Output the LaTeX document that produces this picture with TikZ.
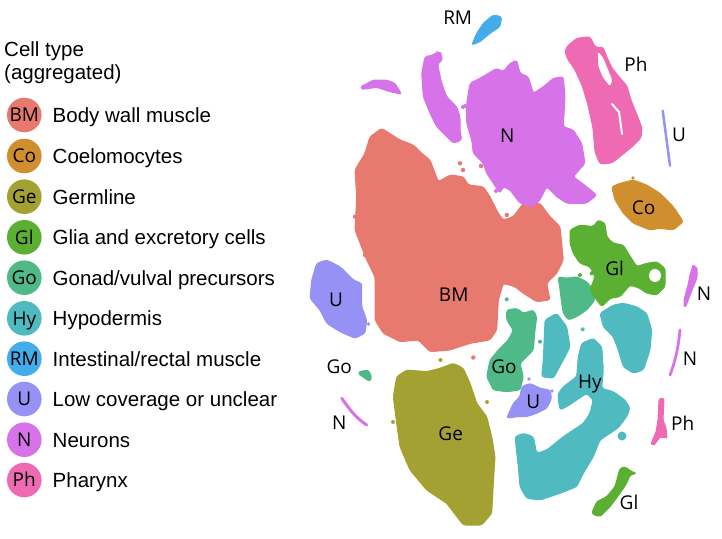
\documentclass[tikz,border=0pt]{standalone}
\usepackage{fontspec}
\setmainfont{Liberation Sans}
\newfontfamily\lblfont{Open Sans}
\definecolor{cBM}{HTML}{E8796E}
\definecolor{cCo}{HTML}{D08F2E}
\definecolor{cGe}{HTML}{A2A131}
\definecolor{cGl}{HTML}{5BAF32}
\definecolor{cGo}{HTML}{4FB987}
\definecolor{cHy}{HTML}{50BAC1}
\definecolor{cRM}{HTML}{44ACEB}
\definecolor{cU}{HTML}{9691F4}
\definecolor{cN}{HTML}{D773E9}
\definecolor{cPh}{HTML}{EE6BB4}
\tikzset{
  blob/.style={fill=#1, draw=#1, line width=1pt, rounded corners=2.5pt},
  gap/.style={fill=white, draw=white, rounded corners=1.5pt},
  strand/.style={draw=#1, line width=3pt, line cap=round},
  legcirc/.style={circle, fill=#1, minimum size=34.6pt, inner sep=0pt,
    font=\lblfont\fontsize{19}{22}\selectfont, text height=13.5pt, text depth=0pt},
  plotlbl/.style={inner sep=0pt, font=\lblfont\fontsize{19}{22}\selectfont,
    text height=13.5pt, text depth=0pt},
  legtxt/.style={anchor=base west, inner sep=0pt, font=\fontsize{20.5}{24}\selectfont},
}
\begin{document}
\begin{tikzpicture}[x=1pt, y=-1pt]
\useasboundingbox (0,0) rectangle (722,538);
% ---------------- legend ----------------
\node[legtxt] (title1) at (4,56) {Cell type};
\node[legtxt] (title2) at (4,79.5) {(aggregated)};
\foreach \nm/\ab/\col/\txt/\yy in {
  lBM/BM/cBM/Body wall muscle/115,
  lCo/Co/cCo/Coelomocytes/156,
  lGe/Ge/cGe/Germline/196.7,
  lGl/Gl/cGl/Glia and excretory cells/237.3,
  lGo/Go/cGo/Gonad\slash vulval precursors/277.7,
  lHy/Hy/cHy/Hypodermis/318.3,
  lRM/RM/cRM/Intestinal\slash rectal muscle/358.7,
  lU/U/cU/Low coverage or unclear/399,
  lN/N/cN/Neurons/439.7,
  lPh/Ph/cPh/Pharynx/480}{
  \node[legcirc=\col] (\nm c) at (24.3,\yy) {\ab};
  \node[legtxt] (\nm t) at (52.5,\yy+7.5) {\txt};
}
% ---------------- clusters ----------------
% Body wall muscle
\fill[blob=cBM] (381.7,128.3) -- (400,140) -- (413.3,145) -- (421.7,153.3) -- (430,160) -- (438.3,181.7) -- (450,175) -- (463.3,176.7) -- (468.3,185) -- (483.3,186.7) -- (490,196.7) -- (498.3,213.3) -- (503.3,220) -- (513.3,216.7) -- (523.3,203.3) -- (540,203.3) -- (550,216.7) -- (560,226.7) -- (563.3,260) -- (556.7,273.3) -- (546.7,283.3) -- (550,300) -- (536.7,301.7) -- (523.3,293.3) -- (515,286.7) -- (503.3,283.3) -- (498.3,300) -- (496.7,330) -- (490,340) -- (470,343.3) -- (450,350) -- (430,351.7) -- (418.3,340) -- (400,341.7) -- (383.3,333.3) -- (375,320) -- (375,276.7) -- (366.7,260) -- (355,230) -- (356.7,196.7) -- (355,170) -- (365,153.3) -- (370,136.7) -- cycle;
\foreach \px/\py in {460/163.3, 463/170, 506.7/215, 473.3/357.5, 365/255, 355/216.7, 481/166, 560/281}
  \fill[cBM] (\px,\py) circle (2.2pt);
% Neurons main
\fill[blob=cN] (470,83.3) -- (480,78.3) -- (488.3,73.3) -- (496.7,68.3) -- (503.3,71.7) -- (510,63.3) -- (516.7,60) -- (520,73.3) -- (528.3,76.7) -- (533.3,93.3) -- (543.3,86.7) -- (553.3,78.3) -- (563.3,76.7) -- (565,96.7) -- (563.3,126.7) -- (573.3,130) -- (581.7,143.3) -- (585,163.3) -- (573.3,176.7) -- (586.7,186.7) -- (596.7,195) -- (586.7,203.3) -- (566.7,203.3) -- (556.7,196.7) -- (546.7,186.7) -- (540,200) -- (533.3,206.7) -- (520,203.3) -- (510,190) -- (503.3,186.7) -- (500,193.3) -- (486.7,173.3) -- (483.3,163.3) -- (473.3,153.3) -- (471.7,140) -- (466.7,123.3) -- (466.7,103.3) -- cycle;
\foreach \px/\py in {463/107, 465/106, 496/191, 563/132}
  \fill[cN] (\px,\py) circle (2pt);
% Neurons left arm
\fill[blob=cN] (425,56.7) -- (433.3,55) -- (437,52) -- (441,53) -- (442.5,60) -- (437.5,64) -- (441.7,83.3) -- (446.7,96.7) -- (456.7,106.7) -- (460,116.7) -- (460,130) -- (461.7,140) -- (453.3,143.3) -- (446.7,136.7) -- (436.7,126.7) -- (430,113.3) -- (423.3,96.7) -- (421.7,73.3) -- cycle;
% Neurons small top-left
\fill[blob=cN] (360,87.3) -- (373.3,80) -- (386.7,80) -- (395,83.3) -- (401.7,94.3) -- (390,91.7) -- (376.7,87.3) -- (363.3,89.3) -- cycle;
% Intestinal/rectal muscle
\fill[blob=cRM] (471.7,45) -- (476.7,33.3) -- (483.3,23.3) -- (493.3,15) -- (501.7,16.7) -- (500,26.7) -- (490,33.3) -- (480,41.7) -- cycle;
% Pharynx
\fill[blob=cPh] (566.7,46.7) -- (576.7,38.3) -- (590,36.7) -- (595,46.7) -- (600,48) -- (603,47) -- (606,55) -- (612,68) -- (620,78) -- (627,86) -- (631,100) -- (637,115) -- (642,128) -- (641,138) -- (633,146) -- (622,155) -- (612,163) -- (600,164) -- (595,152) -- (593,128) -- (588,105) -- (582,85) -- (574,68) -- (568,60) -- (565,52) -- cycle;
\fill[gap] (598,52) -- (603,58) -- (607,68) -- (612,80) -- (610,86) -- (603,77) -- (598.5,66) -- cycle;
\draw[white, line width=2pt, line cap=round] (612,104) -- (619,112) -- (622,134);
% U right top
\draw[strand=cU, line width=2.5pt] (662.7,110.7) -- (670,165.7);
% Coelomocytes
\fill[blob=cCo] (611.7,186.7) -- (620,183.3) -- (633.3,180) -- (646.7,185) -- (660,193.3) -- (673.3,206.7) -- (683.3,221.7) -- (673.3,230) -- (660,228.3) -- (650,230) -- (633.3,223.3) -- (623.3,213.3) -- (615,200) -- cycle;
\fill[cCo] (633,178) circle (1.8pt);
% Gonad precursors (right of BM)
\fill[blob=cGo] (558.3,276.7) -- (566.7,278.3) -- (576.7,276.7) -- (586.7,281.7) -- (593.3,290) -- (595,300) -- (586.7,310) -- (576.7,316.7) -- (568.3,320) -- (563.3,313.3) -- (561.7,303.3) -- (560,290) -- cycle;
% Glia upper
\fill[blob=cGl] (570,230) -- (580,225) -- (593.3,226.7) -- (598.3,220) -- (605,223.3) -- (606.7,236.7) -- (613.3,243.3) -- (623.3,245) -- (628.3,253.3) -- (636.7,266.7) -- (646.7,263.3) -- (656.7,261.7) -- (665,268.3) -- (665,286.7) -- (656.7,295) -- (646.7,293.3) -- (640,288.3) -- (630,285) -- (620,296.7) -- (610,298.3) -- (601.7,306.7) -- (596.7,300) -- (590,290) -- (595,276.7) -- (590,266.7) -- (580,263.3) -- (573.3,253.3) -- (570,243.3) -- cycle;
\fill[white] (655,275.5) ellipse (6pt and 6.5pt);
\foreach \px/\py in {580/275, 591.7/273.3}
  \fill[cGl] (\px,\py) circle (2pt);
% Gonad precursors middle
\fill[blob=cGo] (506.7,310) -- (516.7,308.3) -- (523.3,313.3) -- (533.3,310) -- (536.7,316.7) -- (535,330) -- (533.3,350) -- (526.7,356.7) -- (520,363.3) -- (523.3,376.7) -- (520,390) -- (506.7,391.7) -- (493.3,390) -- (486.7,376.7) -- (490,360) -- (498.3,350) -- (508.3,340) -- (513.3,330) -- (506.7,320) -- cycle;
\foreach \px/\py in {540/341.7, 506.7/299.3}
  \fill[cGo] (\px,\py) circle (2pt);
% Hypodermis left column
\fill[blob=cHy] (545,320) -- (556.7,313.3) -- (566.7,326.7) -- (570,346.7) -- (563.3,360) -- (553.3,378.3) -- (541.7,376.7) -- (543.3,360) -- cycle;
% Hypodermis right upper
\fill[blob=cHy] (600,313.3) -- (613.3,305) -- (623.3,303.3) -- (636.7,306.7) -- (646.7,313.3) -- (651.7,330) -- (650,350) -- (643.3,370) -- (633.3,373.3) -- (623.3,366.7) -- (618.3,350) -- (613.3,336.7) -- (603.3,326.7) -- cycle;
% Hypodermis main
\fill[blob=cHy] (558.3,393.3) -- (563.3,386.7) -- (576.7,376.7) -- (578.3,356.7) -- (581.7,343.3) -- (593.3,338.3) -- (601.7,346.7) -- (603.3,370) -- (601.7,388.3) -- (613.3,391.7) -- (625,400) -- (630,408.3) -- (626.7,416.7) -- (618,428) -- (610,433.3) -- (600,440) -- (593.3,456.7) -- (583.3,473.3) -- (576.7,486.7) -- (560,493.3) -- (540,500) -- (526.7,498.3) -- (520,486.7) -- (518.3,466.7) -- (515,436.7) -- (523.3,433.3) -- (533.3,436.7) -- (536.7,453.3) -- (546.7,450) -- (563.3,436.7) -- (573.3,430) -- (583.3,423.3) -- (590,413.3) -- (593.3,400) -- (586.7,393.3) -- (576.7,400) -- (566.7,406.7) -- (560,410) -- (558.3,400) -- cycle;
\fill[cHy] (622,436) circle (4.5pt);
\fill[cHy] (582.7,329.3) circle (2pt);
% U middle
\fill[blob=cU] (506.7,418.3) -- (513.3,403.3) -- (520,396.7) -- (521.7,386.7) -- (530,383.3) -- (540,388.3) -- (550,390) -- (551.7,398.3) -- (546.7,408.3) -- (536.7,413.3) -- (526.7,416.7) -- (516.7,416.7) -- cycle;
\foreach \px/\py in {529/379, 552/391}
  \fill[cU] (\px,\py) circle (1.8pt);
% Germline
\fill[blob=cGe] (396.7,376.7) -- (406.7,370) -- (426.7,371.7) -- (440,368.3) -- (453.3,363.3) -- (463.3,368.3) -- (470,383.3) -- (476.7,403.3) -- (486.7,416.7) -- (491.7,436.7) -- (495,456.7) -- (493.3,483.3) -- (491.7,513.3) -- (481.7,525) -- (463.3,525) -- (446.7,503.3) -- (426.7,490) -- (410,470) -- (400,446.7) -- (396.7,423.3) -- (393.3,396.7) -- cycle;
\foreach \px/\py in {440.5/360, 393/422, 487/402}
  \fill[cGe] (\px,\py) circle (2pt);
% U left
\fill[blob=cU] (316.7,263.3) -- (326.7,260) -- (340,266.7) -- (353.3,280) -- (361.7,283.3) -- (361.7,306.7) -- (366.7,320) -- (365,333.3) -- (355,338.3) -- (340,331.7) -- (326.7,323.3) -- (320,310) -- (310,298.3) -- (311.7,280) -- cycle;
\fill[cU] (368.5,324) circle (1.8pt);
% Go left small
\fill[blob=cGo] (358.3,371.7) -- (368.3,370) -- (371.7,376.7) -- (370,381.7) -- (365,378.3) -- (360,375) -- cycle;
% N left lower
\draw[strand=cN] (341.7,398.3) .. controls (350,410) and (356,418) .. (366.7,425);
% N right 1
\fill[blob=cN, rounded corners=1pt] (693,265) -- (697,268) -- (697,278) -- (692,290) -- (686,306) -- (684,307) -- (684,300) -- (688,285) -- (690,275) -- cycle;
% N right 2
\draw[strand=cN, line width=2.8pt] (680,330) .. controls (678,350) and (675,362) .. (670,375);
% Ph lower
\fill[blob=cPh, rounded corners=1pt] (661,398) -- (664,399) -- (663,420) -- (666,428) -- (667,438) -- (660,437) -- (654,445) -- (651,444) -- (656,432) -- (658,420) -- (659,400) -- cycle;
% Gl lower
\fill[blob=cGl] (591.7,513.3) -- (596.7,501.7) -- (606.7,496.7) -- (615,486.7) -- (620,468.3) -- (625,466.7) -- (631.7,471.7) -- (636.7,473.3) -- (630,475) -- (626.7,483.3) -- (620,493.3) -- (610,506.7) -- (600,516.7) -- (595,515) -- cycle;
% ---------------- cluster labels ----------------
\node[plotlbl] (tRM) at (457.7,17.3) {RM};
\node[plotlbl] (tPh1) at (636,64.3) {Ph};
\node[plotlbl] (tN1) at (507.3,136) {N};
\node[plotlbl] (tU1) at (679,135) {U};
\node[plotlbl] (tCo) at (643.7,207.3) {Co};
\node[plotlbl] (tGl1) at (614.7,269) {Gl};
\node[plotlbl] (tU2) at (336,299.3) {U};
\node[plotlbl] (tBM) at (453.7,295) {BM};
\node[plotlbl] (tN2) at (704,293.7) {N};
\node[plotlbl] (tN3) at (690,358.3) {N};
\node[plotlbl] (tGo1) at (339.3,366.7) {Go};
\node[plotlbl] (tGo2) at (504,366.7) {Go};
\node[plotlbl] (tHy) at (590,381.5) {Hy};
\node[plotlbl] (tU3) at (533.3,401.7) {U};
\node[plotlbl] (tN4) at (339.3,422.3) {N};
\node[plotlbl] (tPh2) at (682.7,423.3) {Ph};
\node[plotlbl] (tGe) at (450.7,433.3) {Ge};
\node[plotlbl] (tGl2) at (629,502.3) {Gl};
\end{tikzpicture}
\end{document}
